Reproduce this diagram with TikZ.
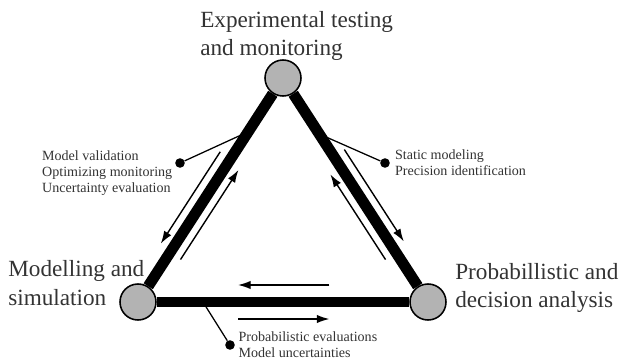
\documentclass[tikz,border=0pt]{standalone}
\usepackage{fontspec}
\setmainfont{Liberation Serif}
\usetikzlibrary{positioning,calc,arrows.meta}
\definecolor{labelgray}{HTML}{333333}
\definecolor{hubgray}{HTML}{B3B3B3}

\begin{document}
\begin{tikzpicture}[x=0.025cm, y=0.025cm,
  hub/.style={circle, draw=black, line width=1.1pt, fill=hubgray, minimum size=0.9cm, inner sep=0pt},
  edge/.style={line width=7.8pt},
  flow/.style={line width=1pt, -{Latex[length=9pt,width=6pt]}},
  pin/.style={circle, fill=black, inner sep=0pt, minimum size=0.24cm},
  lead/.style={line width=0.9pt},
  big/.style={text=labelgray, align=left, inner sep=0pt, font=\fontsize{16.5}{20}\selectfont},
  small/.style={text=labelgray, align=left, inner sep=0pt, font=\fontsize{10}{11.5}\selectfont}]
  \useasboundingbox (0,0) rectangle (622,363);

  % the three corners
  \node[hub] (experiment) at (283,285) {};
  \node[hub] (modelling) at (138,61) {};
  \node[hub] (analysis) at (428,61) {};
  \draw[edge] (modelling) -- (experiment);
  \draw[edge] (experiment) -- (analysis);
  \draw[edge] (analysis) -- (modelling);

  % arrows along the sides
  \coordinate (lo1) at ($(modelling)!0.64!(experiment)!0.315cm!90:(experiment)$);
  \coordinate (lo2) at ($(modelling)!0.23!(experiment)!0.315cm!90:(experiment)$);
  \coordinate (li1) at ($(modelling)!0.22!(experiment)!0.315cm!-90:(experiment)$);
  \coordinate (li2) at ($(modelling)!0.62!(experiment)!0.315cm!-90:(experiment)$);
  \coordinate (ro1) at ($(experiment)!0.35!(analysis)!0.315cm!90:(analysis)$);
  \coordinate (ro2) at ($(experiment)!0.76!(analysis)!0.315cm!90:(analysis)$);
  \coordinate (ri1) at ($(experiment)!0.78!(analysis)!0.315cm!-90:(analysis)$);
  \coordinate (ri2) at ($(experiment)!0.40!(analysis)!0.315cm!-90:(analysis)$);
  \coordinate (bu1) at ($(modelling)!0.66!(analysis)!0.425cm!90:(analysis)$);
  \coordinate (bu2) at ($(modelling)!0.345!(analysis)!0.425cm!90:(analysis)$);
  \coordinate (bl1) at ($(modelling)!0.345!(analysis)!0.425cm!-90:(analysis)$);
  \coordinate (bl2) at ($(modelling)!0.66!(analysis)!0.425cm!-90:(analysis)$);
  \draw[flow] (lo1) -- (lo2);
  \draw[flow] (li1) -- (li2);
  \draw[flow] (ro1) -- (ro2);
  \draw[flow] (ri1) -- (ri2);
  \draw[flow] (bu1) -- (bu2);
  \draw[flow] (bl1) -- (bl2);

  % small labels with pins
  \node[pin] (leftpin) at (180,200) {};
  \coordinate (lefthit) at ($(modelling)!0.76!(experiment)$);
  \draw[lead] (leftpin) -- (lefthit);
  \node[small, left=0.06cm of leftpin, yshift=-0.25cm] (lefttext) {Model validation\\Optimizing monitoring\\Uncertainty evaluation};

  \node[pin] (rightpin) at (385,200) {};
  \coordinate (righthit) at ($(experiment)!0.25!(analysis)$);
  \draw[lead] (rightpin) -- (righthit);
  \node[small, right=0.12cm of rightpin] (righttext) {Static modeling\\Precision identification};

  \node[pin] (bottompin) at (230,18) {};
  \coordinate (bottomhit) at ($(modelling)!0.224!(analysis)$);
  \draw[lead] (bottompin) -- (bottomhit);
  \node[small, right=0.08cm of bottompin] (bottomtext) {Probabilistic evaluations\\Model uncertainties};

  % corner titles
  \node[big, anchor=west] (exptext) at (200,327) {Experimental testing\\and monitoring};
  \node[big, anchor=west] (modtext) at (8,80) {Modelling and\\simulation};
  \node[big, anchor=west] (anatext) at (455,75) {Probabillistic and\\decision analysis};
\end{tikzpicture}
\end{document}
